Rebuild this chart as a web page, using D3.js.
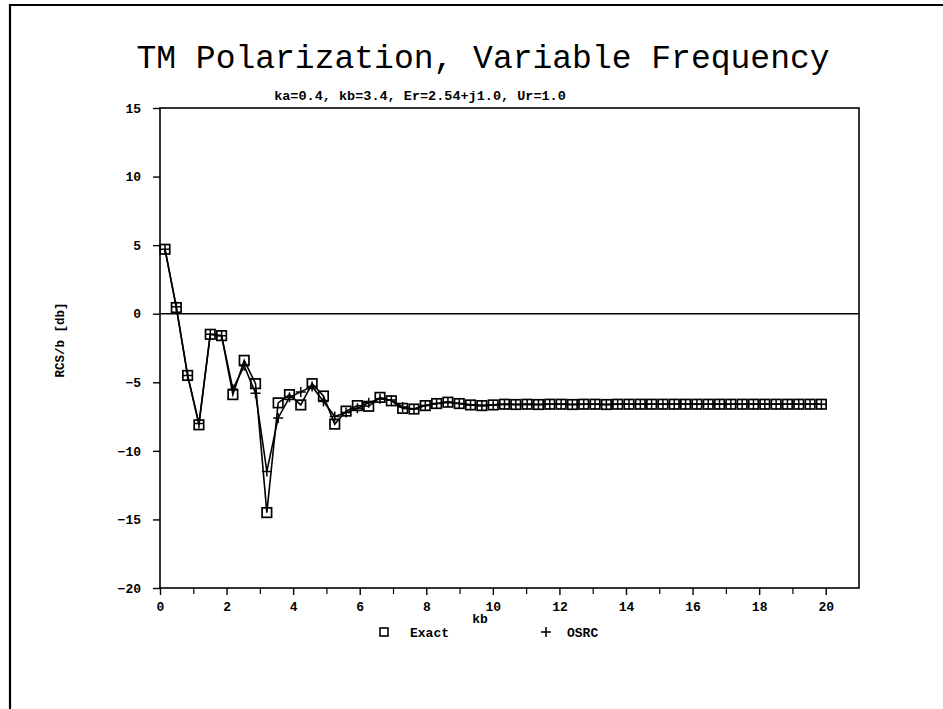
<!DOCTYPE html>
<html><head><meta charset="utf-8">
<script src="https://cdn.jsdelivr.net/npm/d3@7"></script>
<style>html,body{margin:0;padding:0;background:#fff;}</style>
</head><body>
<script>
const kb = [0.15,0.49,0.83,1.17,1.51,1.85,2.19,2.53,2.87,3.21,3.55,3.89,4.23,4.57,4.91,5.25,5.59,5.93,6.27,6.61,6.95,7.29,7.63,7.97,8.31,8.65,8.99,9.33,9.67,10.01,10.35,10.69,11.03,11.37,11.71,12.05,12.39,12.73,13.07,13.41,13.75,14.09,14.43,14.77,15.11,15.45,15.79,16.13,16.47,16.81,17.15,17.49,17.83,18.17,18.51,18.85,19.19,19.53,19.87];
const exact = [4.7,0.45,-4.5,-8.1,-1.5,-1.6,-5.9,-3.4,-5.1,-14.5,-6.5,-5.9,-6.65,-5.1,-6.0,-8.05,-7.1,-6.7,-6.75,-6.1,-6.35,-6.9,-6.95,-6.7,-6.55,-6.45,-6.55,-6.65,-6.7,-6.65,-6.6,-6.62,-6.6,-6.62,-6.6,-6.6,-6.62,-6.6,-6.6,-6.62,-6.6,-6.6,-6.6,-6.6,-6.6,-6.6,-6.6,-6.6,-6.6,-6.6,-6.6,-6.6,-6.6,-6.6,-6.6,-6.6,-6.6,-6.6,-6.6];
const osrc = [4.7,0.5,-4.5,-8.0,-1.5,-1.6,-5.5,-3.8,-5.8,-11.5,-7.6,-6.1,-5.7,-5.3,-6.4,-7.5,-7.2,-6.9,-6.5,-6.2,-6.3,-6.8,-6.95,-6.7,-6.55,-6.45,-6.55,-6.65,-6.7,-6.65,-6.6,-6.62,-6.6,-6.62,-6.6,-6.6,-6.62,-6.6,-6.6,-6.62,-6.6,-6.6,-6.6,-6.6,-6.6,-6.6,-6.6,-6.6,-6.6,-6.6,-6.6,-6.6,-6.6,-6.6,-6.6,-6.6,-6.6,-6.6,-6.6];
const xTicks = [0,2,4,6,8,10,12,14,16,18,20];
const xMinor = [1,3,5,7,9,11,13,15,17,19];
const yTicks = [15,10,5,0,-5,-10,-15,-20];
const titleText = "TM Polarization, Variable Frequency";
const subtitleText = "ka=0.4, kb=3.4, Er=2.54+j1.0, Ur=1.0";
const xLabel = "kb";
const yLabel = "RCS/b [db]";
const legendNames = ["Exact","OSRC"];

const W = 943, H = 709;
const svg = d3.select("body").append("svg").attr("width", W).attr("height", H);
svg.append("rect").attr("width", W).attr("height", H).attr("fill", "#fff");

// outer frame
svg.append("path").attr("d", `M10,${H} L10,5 L${W},5`).attr("fill","none").attr("stroke","#000").attr("stroke-width",2.2);

const L = 160, R = 859, T = 108, B = 588;
const x = d3.scaleLinear().domain([0,21]).range([L,R]);
const y = d3.scaleLinear().domain([-20,15]).range([B,T]);

const monoB = "'Liberation Mono','DejaVu Sans Mono',monospace";

// plot box
svg.append("rect").attr("x",L).attr("y",T).attr("width",R-L).attr("height",B-T)
  .attr("fill","none").attr("stroke","#000").attr("stroke-width",1.6);

// zero line
svg.append("line").attr("x1",L).attr("x2",R).attr("y1",y(0)).attr("y2",y(0)).attr("stroke","#000").attr("stroke-width",1.5);

// x axis
const gx = svg.append("g").attr("transform",`translate(0,${B})`)
  .call(d3.axisBottom(x).tickValues(xTicks).tickSize(7).tickPadding(7).tickFormat(d3.format("d")));
gx.select(".domain").remove();
gx.selectAll("line").attr("stroke","#000").attr("stroke-width",1.4);
gx.selectAll("text").attr("font-family",monoB).attr("font-weight","bold").attr("font-size",13).attr("fill","#000");
svg.append("g").attr("transform",`translate(0,${B})`)
  .call(d3.axisBottom(x).tickValues(xMinor).tickSize(6).tickFormat(""))
  .call(g=>g.select(".domain").remove())
  .selectAll("line").attr("stroke","#000").attr("stroke-width",1.2);

// y axis
const gy = svg.append("g").attr("transform",`translate(${L},0)`)
  .call(d3.axisLeft(y).tickValues(yTicks).tickSize(7).tickPadding(12).tickFormat(d3.format("d")));
gy.select(".domain").remove();
gy.selectAll("line").attr("stroke","#000").attr("stroke-width",1.4);
gy.selectAll("text").attr("font-family",monoB).attr("font-weight","bold").attr("font-size",13).attr("fill","#000");

// titles
svg.append("text").attr("x",483).attr("y",68).attr("text-anchor","middle")
  .attr("font-family","'Liberation Mono','Courier New',monospace").attr("font-size",33).attr("fill","#000").text(titleText);
svg.append("text").attr("x",420).attr("y",100).attr("text-anchor","middle")
  .attr("font-family",monoB).attr("font-weight","bold").attr("font-size",13.5).attr("fill","#000").text(subtitleText);

// axis labels
svg.append("text").attr("x",480).attr("y",623).attr("text-anchor","middle")
  .attr("font-family",monoB).attr("font-weight","bold").attr("font-size",13).text(xLabel);
svg.append("text").attr("transform",`translate(64,340) rotate(-90)`).attr("text-anchor","middle")
  .attr("font-family",monoB).attr("font-weight","bold").attr("font-size",12.5).text(yLabel);

// lines
const lineGen = vals => d3.line().x((d,i)=>x(kb[i])).y(d=>y(d))(vals);
svg.append("path").attr("d",lineGen(osrc)).attr("fill","none").attr("stroke","#000").attr("stroke-width",1.6);
svg.append("path").attr("d",lineGen(exact)).attr("fill","none").attr("stroke","#000").attr("stroke-width",1.6);

// markers
const S = 9.5;
svg.append("g").selectAll("rect").data(exact).join("rect")
  .attr("x",(d,i)=>x(kb[i])-S/2).attr("y",d=>y(d)-S/2).attr("width",S).attr("height",S)
  .attr("fill","none").attr("stroke","#000").attr("stroke-width",1.7);
const P = 5;
svg.append("g").selectAll("path").data(osrc).join("path")
  .attr("d",(d,i)=>{const cx=x(kb[i]), cy=y(d); return `M${cx-P},${cy}H${cx+P}M${cx},${cy-P}V${cy+P}`;})
  .attr("stroke","#000").attr("stroke-width",1.5);

// legend
const lg = svg.append("g");
lg.append("rect").attr("x",380).attr("y",628).attr("width",8).attr("height",8).attr("fill","none").attr("stroke","#000").attr("stroke-width",1.6);
lg.append("text").attr("x",410).attr("y",637).attr("font-family",monoB).attr("font-weight","bold").attr("font-size",13).text(legendNames[0]);
lg.append("path").attr("d","M541,632H551M546,627V637").attr("stroke","#000").attr("stroke-width",1.5);
lg.append("text").attr("x",567).attr("y",637).attr("font-family",monoB).attr("font-weight","bold").attr("font-size",13).text(legendNames[1]);
</script>
</body></html>
